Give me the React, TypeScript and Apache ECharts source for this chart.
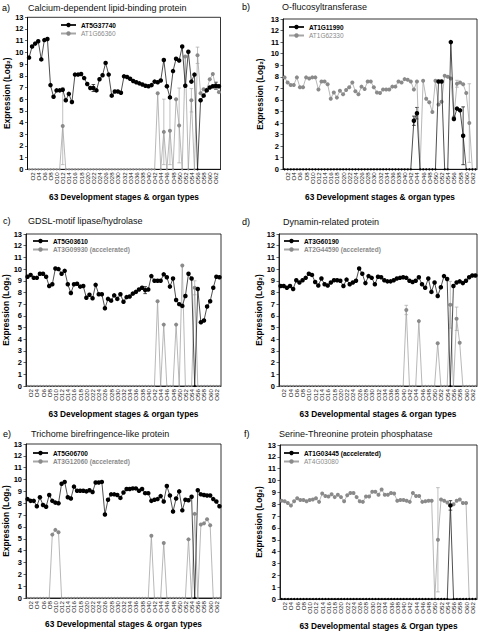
import React, { useEffect, useRef } from "react";
import * as echarts from "echarts";

const FONT = '"Liberation Sans", Arial, sans-serif';

const categories = [
  "O1","O2","O3","O4","O5","O6","O7","O8","O9","O10",
  "O11","O12","O13","O14","O15","O16","O17","O18","O19","O20",
  "O21","O22","O23","O24","O25","O26","O27","O28","O29","O30",
  "O31","O32","O33","O34","O35","O36","O37","O38","O39","O40",
  "O41","O42","O43","O44","O45","O46","O47","O48","O49","O50",
  "O51","O52","O53","O54","O55","O56","O57","O58","O59","O60",
  "O61","O62","O63",
];

const yTicks = [0, 13, 1]; // min, max, interval

// a) Calcium-dependent lipid-binding protein
const aBlack = [
  9.55, 10.5, 10.75, 10.95, 9.4, 11.05, 11.15, 7.2, 6.2, 6.75,
  6.75, 6.8, 5.9, 6.45, 5.75, 8.1, 8.1, 8.15, 7.8, 7.3,
  6.95, 6.95, 6.75, 7.7, 8.05, 9.1, 8.1, 6.3, 6.65, 6.65,
  6.55, 7.95, 7.9, 7.75, 7.55, 7.45, 7.35, 7.25, 7.15, 7.1,
  7.2, 7.5, 7.45, 7.6, 9.35, 7.1, 6.15, 8.4, 9.45, 9.3,
  10.5, 7.15, 10.05, 7.5, 8.1, 0, 5.9, 6.3, 6.75, 7.0,
  7.1, 7.15, 7.1,
];
const aGray = [
  0, 0, 0, 0, 0, 0, 0, 0, 0, 0,
  0, 3.7, 0, 0, 0, 0, 0, 0, 0, 0,
  0, 0, 0, 0, 0, 0, 0, 0, 0, 0,
  0, 0, 0, 0, 0, 0, 0, 0, 0, 0,
  0, 0, 6.5, 0, 3.2, 0, 3.3, 0, 6.0, 3.75,
  0, 9.65, 0, 5.9, 0, 9.75, 6.5, 6.85, 6.8, 7.7,
  8.15, 7.0, 6.6,
];
const aGrayErr: [number, number][] = [[12, 3.3], [45, 2.8], [47, 2.9], [50, 3.2], [54, 1.0], [56, 0.7]];
const aBlackErr: [number, number][] = [[22, 0.3], [62, 0.3]];

// b) O-flucosyltransferase
const bBlack = [
  0, 0, 0, 0, 0, 0, 0, 0, 0, 0,
  0, 0, 0, 0, 0, 0, 0, 0, 0, 0,
  0, 0, 0, 0, 0, 0, 0, 0, 0, 0,
  0, 0, 0, 0, 0, 0, 0, 0, 0, 0,
  0, 0, 4.2, 4.85, 0, 0, 0, 0, 0, 0,
  7.6, 7.6, 0, 0, 11.0, 4.35, 5.25, 5.1, 2.9, 0,
  0, 0, 0,
];
const bGray = [
  7.95, 7.5, 7.3, 7.3, 7.95, 7.1, 7.1, 7.95, 7.85, 7.95,
  7.95, 6.9, 7.6, 7.6, 7.35, 6.1, 6.65, 6.2, 6.8, 6.5,
  6.85, 7.1, 7.5, 6.75, 6.5, 7.15, 6.95, 7.6, 7.6, 7.1,
  6.65, 6.6, 6.9, 6.9, 6.9, 7.15, 7.15, 7.6, 7.5, 7.8,
  7.75, 7.6, 6.9, 7.6, 0, 7.65, 6.1, 5.8, 4.95, 7.65,
  5.6, 5.85, 8.1, 8.0, 7.85, 4.5, 7.4, 7.5, 7.35, 6.6,
  4.0, 0, 0,
];
const bBlackErr: [number, number][] = [[43, 0.4], [44, 0.5], [59, 2.5]];
const bGrayErr: [number, number][] = [[61, 3.4], [57, 0.3]];

// c) GDSL-motif lipase/hydrolase
const cBlack = [
  9.35, 9.5, 9.25, 9.25, 9.6, 9.6, 9.35, 8.55, 8.7, 10.05,
  10.0, 9.6, 9.85, 8.7, 7.95, 8.7, 8.75, 8.5, 8.55, 7.55,
  7.8, 7.5, 8.65, 7.85, 7.85, 6.65, 7.45, 7.3, 7.75, 7.45,
  7.85, 7.2, 7.6, 7.65, 7.9, 8.05, 8.25, 8.4, 8.2, 8.25,
  9.4, 9.0, 9.0, 9.0, 9.55, 9.3, 8.5, 9.2, 7.35, 7.0,
  6.85, 7.7, 9.6, 9.2, 0, 8.3, 5.45, 5.6, 6.8, 7.25,
  8.4, 9.35, 9.3,
];
const cGray = [
  0, 0, 0, 0, 0, 0, 0, 0, 0, 0,
  0, 0, 0, 0, 0, 0, 0, 0, 0, 0,
  0, 0, 0, 0, 0, 0, 0, 0, 0, 0,
  0, 0, 0, 0, 0, 0, 0, 0, 0, 0,
  0, 0, 7.25, 0, 5.25, 0, 0, 0, 5.25, 0,
  10.3, 0, 0, 0, 8.4, 0, 0, 0, 0, 0,
  0, 0, 0,
];
const cBlackErr: [number, number][] = [[39, 0.3]];
const cGrayErr: [number, number][] = [[55, 0.6]];

// d) Dynamin-related protein
const dBlack = [
  8.55, 8.55, 8.4, 8.55, 8.3, 9.05, 8.85, 9.05, 9.25, 9.6,
  9.5, 8.9, 8.6, 9.2, 8.7, 8.6, 8.85, 9.05, 9.05, 9.0,
  8.55, 9.1, 8.7, 8.85, 9.0, 10.05, 9.6, 8.8, 9.4, 9.25,
  8.7, 9.35, 9.3, 9.05, 8.95, 8.95, 9.05, 9.2, 9.25, 9.3,
  9.25, 9.0, 8.9, 9.0, 9.3, 8.7, 8.4, 9.2, 8.05, 8.85,
  7.7, 8.45, 9.4, 9.15, 0, 8.55, 8.85, 8.95, 8.8, 9.0,
  9.3, 9.45, 9.45,
];
const dGray = [
  0, 0, 0, 0, 0, 0, 0, 0, 0, 0,
  0, 0, 0, 0, 0, 0, 0, 0, 0, 0,
  0, 0, 0, 0, 0, 0, 0, 0, 0, 0,
  0, 0, 0, 0, 0, 0, 0, 0, 0, 0,
  6.5, 0, 0, 0, 5.55, 0, 0, 0, 0, 0,
  3.65, 0, 0, 0, 6.95, 0, 5.75, 3.7, 0, 0,
  0, 0, 0,
];
const dBlackErr: [number, number][] = [];
const dGrayErr: [number, number][] = [[41, 0.4], [55, 2.0], [57, 1.0]];

// e) Trichome birefringence-like protein
const eBlack = [
  8.35, 8.2, 8.2, 7.75, 8.5, 7.85, 7.7, 8.7, 8.2, 8.05,
  8.0, 9.65, 9.8, 8.5, 8.4, 9.4, 9.05, 9.05, 9.05, 9.0,
  9.1, 8.95, 9.75, 9.75, 9.8, 7.05, 8.3, 8.75, 8.75, 8.7,
  8.45, 8.9, 9.2, 9.2, 9.25, 9.25, 9.05, 9.2, 8.85, 8.85,
  8.2, 8.3, 8.35, 8.6, 8.15, 9.45, 8.65, 7.3, 8.4, 9.0,
  7.4, 8.3, 8.25, 8.55, 0, 9.1, 8.75, 8.7, 8.65, 8.65,
  8.35, 8.15, 7.75,
];
const eGray = [
  0, 0, 0, 0, 0, 0, 0, 0, 5.35, 5.75,
  5.55, 0, 0, 0, 0, 0, 0, 0, 0, 0,
  0, 0, 0, 0, 0, 0, 0, 0, 0, 0,
  0, 0, 0, 0, 0, 0, 0, 0, 0, 0,
  5.25, 0, 0, 0, 4.65, 0, 0, 0, 0, 0,
  0, 0, 4.95, 0, 7.1, 0, 6.2, 6.3, 6.65, 6.15,
  0, 0, 0,
];
const eBlackErr: [number, number][] = [];
const eGrayErr: [number, number][] = [];

// f) Serine-Threonine protein phosphatase
const fBlack = [
  0, 0, 0, 0, 0, 0, 0, 0, 0, 0,
  0, 0, 0, 0, 0, 0, 0, 0, 0, 0,
  0, 0, 0, 0, 0, 0, 0, 0, 0, 0,
  0, 0, 0, 0, 0, 0, 0, 0, 0, 0,
  0, 0, 0, 0, 0, 0, 0, 0, 0, 0,
  0, 0, 0, 0, 7.9, 0, 0, 0, 0, 0,
  0, 0, 0,
];
const fGray = [
  8.3, 8.25, 8.1, 7.9, 8.25, 8.5, 8.35, 8.35, 8.25, 8.35,
  8.4, 8.5, 8.2, 8.9, 8.7, 8.65, 8.85, 8.6, 8.8, 8.6,
  8.25, 8.75, 8.95, 8.95, 8.6, 8.25, 8.2, 8.65, 8.65, 9.05,
  9.05, 8.8, 9.25, 8.8, 8.8, 8.95, 8.9, 8.3, 8.35, 8.35,
  8.3, 8.2, 8.95, 8.7, 8.7, 8.2, 8.25, 8.3, 8.3, 0,
  5.0, 8.4, 8.3, 8.15, 7.9, 8.0, 8.3, 8.4, 8.1, 8.1,
  0, 0, 0,
];
const fBlackErr: [number, number][] = [[55, 0.4]];
const fGrayErr: [number, number][] = [[51, 4.4]];

const panelLabels = ["a)", "b)", "c)", "d)", "e)", "f)"];
const titles = [
  "Calcium-dependent lipid-binding protein",
  "O-flucosyltransferase",
  "GDSL-motif lipase/hydrolase",
  "Dynamin-related protein",
  "Trichome birefringence-like protein",
  "Serine-Threonine protein phosphatase",
];
const blackNames = ["AT5G37740", "AT1G11990", "AT5G03610", "AT3G60190", "AT5G06700", "AT1G03445 (accelerated)"];
const grayNames = ["AT1G66360", "AT1G62330", "AT3G09930 (accelerated)", "AT2G44590 (accelerated)", "AT3G12060 (accelerated)", "AT4G03080"];
const xNames = [
  "63 Development stages & organ types",
  "63 Development stages & organ types",
  "63 Development stages & organ types",
  "63 Developmental stages & organ types",
  "63 Developmental stages & organ types",
  "63 Developmental stages & Organ types",
];
const yName = "Expression (Log\u2082)";

const blackSeries = [aBlack, bBlack, cBlack, dBlack, eBlack, fBlack];
const graySeries = [aGray, bGray, cGray, dGray, eGray, fGray];
const blackErrs = [aBlackErr, bBlackErr, cBlackErr, dBlackErr, eBlackErr, fBlackErr];
const grayErrs = [aGrayErr, bGrayErr, cGrayErr, dGrayErr, eGrayErr, fGrayErr];

// layout (pixels)
const LAYOUT = [
  { grid: { left: 27.5, top: 17.3, width: 193, height: 152 }, labelX: 2, titleX: 28, titleY: 8, legendLeft: 60, legendTop: 21.5, yNameGap: 15, xNameGap: 24 },
  { grid: { left: 283, top: 19, width: 194, height: 150.3 }, labelX: 242, titleX: 282, titleY: 7, legendLeft: 288, legendTop: 23.5, yNameGap: 19, xNameGap: 24 },
  { grid: { left: 26, top: 234, width: 195, height: 152 }, labelX: 3, titleX: 28, titleY: 221, legendLeft: 32, legendTop: 237.5, yNameGap: 16, xNameGap: 24 },
  { grid: { left: 279, top: 234, width: 198, height: 152 }, labelX: 242, titleX: 283, titleY: 222, legendLeft: 283, legendTop: 237.5, yNameGap: 16, xNameGap: 24 },
  { grid: { left: 26, top: 444, width: 195, height: 154 }, labelX: 3, titleX: 31, titleY: 434, legendLeft: 32, legendTop: 449.5, yNameGap: 16, xNameGap: 22 },
  { grid: { left: 280, top: 445, width: 197, height: 154 }, labelX: 244, titleX: 279, titleY: 434, legendLeft: 283, legendTop: 449.5, yNameGap: 17, xNameGap: 23 },
];

const BLACK = "#000000";
const GRAY_SYM = "#8a8a8a";
const GRAY_LINE = "#a6a6a6";

function errSeries(i: number, values: number[], errs: [number, number][], color: string) {
  return {
    type: "custom",
    xAxisIndex: i,
    yAxisIndex: i,
    silent: true,
    z: 1,
    data: errs.map(([k, e]) => [k - 1, values[k - 1], e]),
    renderItem: (_params: any, api: any) => {
      const x = api.value(0);
      const v = api.value(1);
      const e = api.value(2);
      const hi = api.coord([x, Math.min(13, v + e)]);
      const lo = api.coord([x, Math.max(0, v - e)]);
      const st = { stroke: color, lineWidth: 0.7 };
      return {
        type: "group",
        children: [
          { type: "line", shape: { x1: hi[0], y1: hi[1], x2: lo[0], y2: lo[1] }, style: st },
          { type: "line", shape: { x1: hi[0] - 1.8, y1: hi[1], x2: hi[0] + 1.8, y2: hi[1] }, style: st },
          { type: "line", shape: { x1: lo[0] - 1.8, y1: lo[1], x2: lo[0] + 1.8, y2: lo[1] }, style: st },
        ],
      };
    },
  };
}

function buildOption() {
  const grid = LAYOUT.map((l) => ({ ...l.grid, show: true, borderColor: "#000", borderWidth: 0.8, backgroundColor: "transparent" }));
  const xAxis = LAYOUT.map((l, i) => ({
    type: "category",
    gridIndex: i,
    data: categories,
    boundaryGap: true,
    name: xNames[i],
    nameLocation: "middle",
    nameGap: l.xNameGap,
    nameTextStyle: { fontWeight: "bold", fontSize: 8.3, color: "#000", fontFamily: FONT },
    axisLine: { lineStyle: { color: "#000", width: 0.8 } },
    axisTick: { alignWithLabel: true, interval: 0, length: 2.5, lineStyle: { color: "#000", width: 0.6 } },
    axisLabel: {
      interval: (idx: number) => idx % 2 === 1,
      rotate: 90,
      fontSize: 6.2,
      margin: 3,
      color: "#222",
      fontFamily: FONT,
    },
    splitLine: { show: false },
  }));
  const yAxis = LAYOUT.map((l, i) => ({
    type: "value",
    gridIndex: i,
    min: yTicks[0],
    max: yTicks[1],
    interval: yTicks[2],
    name: yName,
    nameLocation: "middle",
    nameGap: l.yNameGap,
    nameTextStyle: { fontWeight: "bold", fontSize: 8.3, color: "#000", fontFamily: FONT },
    axisLine: { show: true, lineStyle: { color: "#000", width: 0.8 } },
    axisTick: { show: true, length: 2.5, lineStyle: { color: "#000", width: 0.6 } },
    axisLabel: { fontSize: 7.5, fontWeight: "bold", color: "#000", margin: 4, fontFamily: FONT },
    splitLine: { show: false },
  }));
  const legend = LAYOUT.map((l, i) => ({
    orient: "vertical",
    left: l.legendLeft,
    top: l.legendTop,
    padding: 0,
    itemGap: 1.5,
    itemWidth: 15,
    itemHeight: 5.5,
    selectedMode: false,
    textStyle: { fontSize: 6.5, lineHeight: 7, fontFamily: FONT },
    data: [
      { name: blackNames[i], textStyle: { color: "#000", fontWeight: "bold" } },
      { name: grayNames[i], textStyle: { color: GRAY_SYM, fontWeight: grayNames[i].includes("accelerated") ? "bold" : "normal" } },
    ],
  }));
  const series: any[] = [];
  LAYOUT.forEach((_l, i) => {
    series.push(errSeries(i, graySeries[i], grayErrs[i], GRAY_LINE));
    series.push({
      type: "line",
      name: grayNames[i],
      xAxisIndex: i,
      yAxisIndex: i,
      data: graySeries[i],
      symbol: "circle",
      showAllSymbol: true,
      symbolSize: (v: any) => ((Array.isArray(v) ? v[1] : v) === 0 ? 2 : 4),
      itemStyle: { color: GRAY_SYM },
      lineStyle: { color: GRAY_LINE, width: 0.8 },
      z: 2,
    });
    series.push(errSeries(i, blackSeries[i], blackErrs[i], BLACK));
    series.push({
      type: "line",
      name: blackNames[i],
      xAxisIndex: i,
      yAxisIndex: i,
      data: blackSeries[i],
      symbol: "circle",
      showAllSymbol: true,
      symbolSize: (v: any) => ((Array.isArray(v) ? v[1] : v) === 0 ? 2 : 4.5),
      itemStyle: { color: BLACK },
      lineStyle: { color: "#222", width: 0.8 },
      z: 3,
    });
  });
  const graphic: any[] = [];
  LAYOUT.forEach((l, i) => {
    graphic.push({
      type: "text",
      x: l.labelX,
      y: l.titleY,
      style: { text: panelLabels[i], fontSize: 9, fontFamily: FONT, fill: "#000", verticalAlign: "middle" },
    });
    graphic.push({
      type: "text",
      x: l.titleX,
      y: l.titleY,
      style: { text: titles[i], fontSize: 9, fontFamily: FONT, fill: "#111", verticalAlign: "middle" },
    });
  });
  return {
    animation: false,
    backgroundColor: "#ffffff",
    textStyle: { fontFamily: FONT },
    grid,
    xAxis,
    yAxis,
    legend,
    series,
    graphic,
  };
}

export default function App() {
  const ref = useRef<HTMLDivElement | null>(null);
  useEffect(() => {
    if (!ref.current) return;
    const chart = echarts.init(ref.current, undefined, { renderer: "svg" });
    chart.setOption(buildOption() as any);
    return () => chart.dispose();
  }, []);
  return (
    <div
      ref={ref}
      style={{ position: "absolute", left: 0, top: 0, width: 479, height: 632, background: "#fff" }}
    />
  );
}
